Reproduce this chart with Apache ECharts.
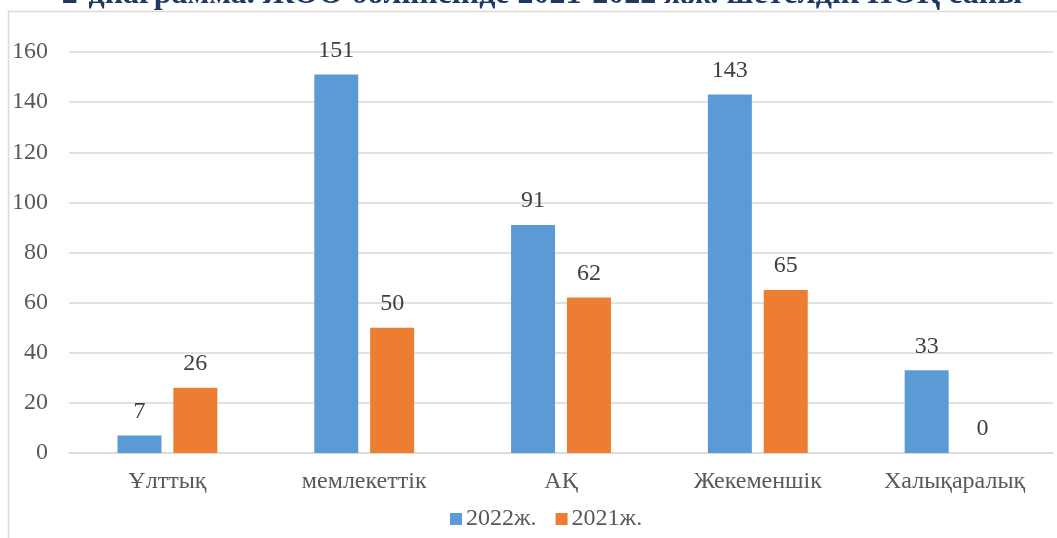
<!DOCTYPE html>
<html>
<head>
<meta charset="utf-8">
<script src="https://cdn.jsdelivr.net/npm/echarts@6/dist/echarts.min.js"></script>
<style>html,body{margin:0;padding:0;background:#fff;}#c{width:1057px;height:538px;}</style>
</head>
<body>
<div id="c"></div>
<script>
var titleText = '2-диаграмма. ЖОО бөлінісінде 2021-2022 жж. шетелдік ПОҚ саны';
var categories = ['Ұлттық', 'мемлекеттік', 'АҚ', 'Жекеменшік', 'Халықаралық'];
var seriesNames = ['2022ж.', '2021ж.'];
var values2022 = [7, 151, 91, 143, 33];
var values2021 = [26, 50, 62, 65, 0];
var yMin = 0, yMax = 160, yInterval = 20;

var font = '"Liberation Serif", "Times New Roman", serif';
var chart = echarts.init(document.getElementById('c'), null, {renderer: 'canvas'});
var labelStyle = {show: true, position: 'top', distance: 12, color: '#404040', fontFamily: font, fontSize: 24};
chart.setOption({
  animation: false,
  graphic: [
    {type: 'rect', shape: {x: 8.5, y: 11.5, width: 1200, height: 700}, style: {fill: 'none', stroke: '#d9d9d9', lineWidth: 1.5}, z: -10},
    {type: 'text', x: 542, y: 11, style: {text: titleText, fill: '#1F3864', font: 'bold 32px ' + font, align: 'center', verticalAlign: 'bottom'}, z: 10}
  ],
  legend: {
    left: 445, top: 502,
    itemWidth: 12, itemHeight: 12, itemGap: 19,
    icon: 'rect',
    textStyle: {color: '#595959', fontFamily: font, fontSize: 24, padding: [4, 0, 0, -1]},
    data: seriesNames
  },
  grid: {left: 69, right: 4, top: 52, bottom: 85},
  xAxis: {
    type: 'category', data: categories,
    axisLine: {lineStyle: {color: '#d9d9d9', width: 1.5}},
    axisTick: {show: false},
    axisLabel: {color: '#595959', fontFamily: font, fontSize: 24, margin: 17}
  },
  yAxis: {
    type: 'value', min: yMin, max: yMax, interval: yInterval,
    axisLine: {show: false}, axisTick: {show: false},
    splitLine: {lineStyle: {color: '#d9d9d9', width: 1.5}},
    axisLabel: {color: '#595959', fontFamily: font, fontSize: 24, margin: 21}
  },
  series: [
    {name: seriesNames[0], type: 'bar', data: values2022, barWidth: 44, barGap: '27%', itemStyle: {color: '#5B9BD5'}, label: labelStyle},
    {name: seriesNames[1], type: 'bar', data: values2021, barWidth: 44, itemStyle: {color: '#ED7D31'}, label: labelStyle}
  ]
});
</script>
</body>
</html>
